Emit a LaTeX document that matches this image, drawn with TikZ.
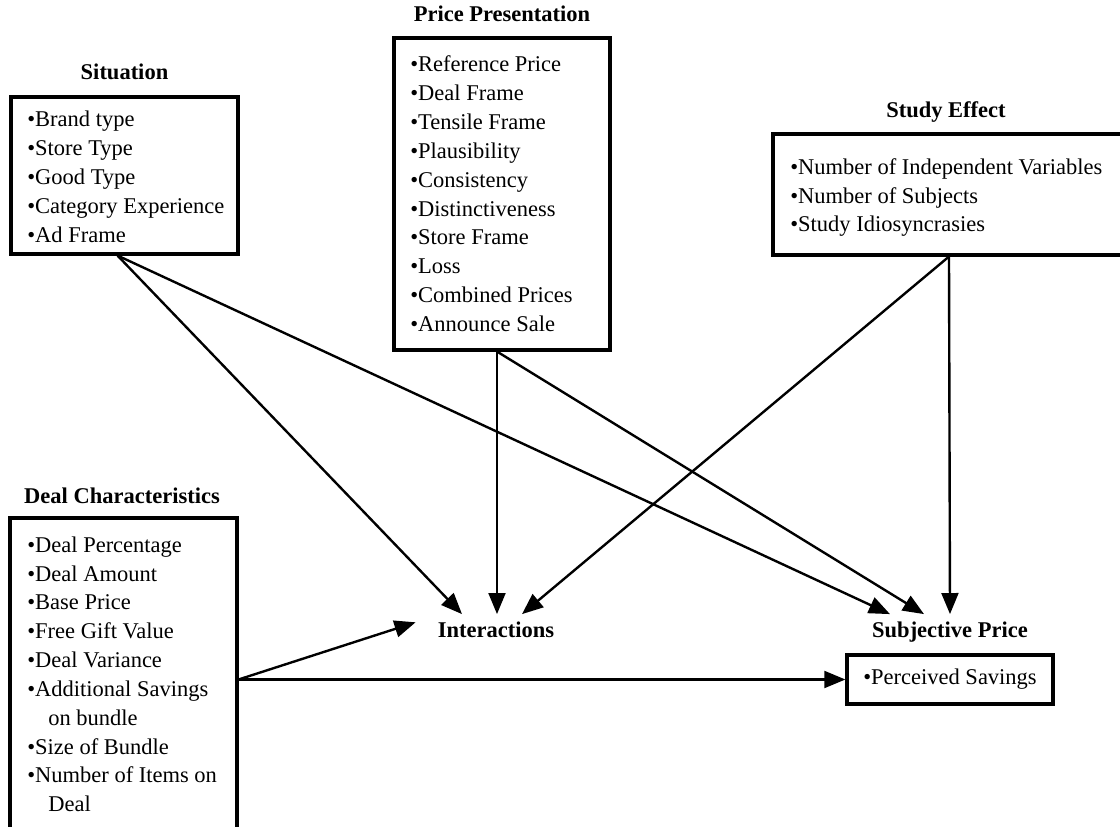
\documentclass[tikz,border=0pt]{standalone}
\usepackage{fontspec}
\setmainfont{Liberation Serif}
\usetikzlibrary{arrows.meta,fit,calc}
\begin{document}
\begin{tikzpicture}[x=0.025cm,y=-0.025cm,
		box/.style={draw,line width=2.2pt,inner sep=0pt},
		head/.style={font=\fontsize{16}{20.5}\selectfont\bfseries,anchor=base,inner sep=0pt},
		items/.style={font=\fontsize{16}{20.5}\selectfont,align=left,anchor=north west,inner sep=0pt},
		arr/.style={line width=1.7pt,-{Triangle[length=15pt,width=12pt]}}]
		\useasboundingbox (0,0) rectangle (1120,827);
		\clip (0,0) rectangle (1120,827);
		\node[head] (sitHead) at (124.5,80) {Situation};
		\node[box,fit={(11,97) (238,254)}] (sit) {};
		\node[items] (sitList) at (27,106.5) {\strut\textbullet Brand type\\\textbullet Store Type\\\textbullet Good Type\\\textbullet Category Experience\\\textbullet Ad Frame};
		\node[head] (priceHead) at (502,22) {Price Presentation};
		\node[box,fit={(394,38) (610,350)}] (price) {};
		\node[items] (priceList) at (410,51.5) {\strut\textbullet Reference Price\\\textbullet Deal Frame\\\textbullet Tensile Frame\\\textbullet Plausibility\\\textbullet Consistency\\\textbullet Distinctiveness\\\textbullet Store Frame\\\textbullet Loss\\\textbullet Combined Prices\\\textbullet Announce Sale};
		\node[head] (studyHead) at (946,118) {Study Effect};
		\node[box,fit={(773,134) (1125,255)}] (study) {};
		\node[items] (studyList) at (790,153.8) {\strut\textbullet Number of Independent Variables\\\textbullet Number of Subjects\\\textbullet Study Idiosyncrasies};
		\node[head] (dealHead) at (122,503) {Deal Characteristics};
		\node[box,fit={(10,518) (237,880)}] (deal) {};
		\node[items] (dealList) at (27,531.8) {\strut\textbullet Deal Percentage\\\textbullet Deal Amount\\\textbullet Base Price\\\textbullet Free Gift Value\\\textbullet Deal Variance\\\textbullet Additional Savings\\\hspace*{15pt}on bundle\\\textbullet Size of Bundle\\\textbullet Number of Items on\\\hspace*{15pt}Deal};
		\node[head] (inter) at (496,637) {Interactions};
		\node[head] (subj) at (950,637) {Subjective Price};
		\node[box,minimum width=5.15cm,minimum height=1.225cm,font=\fontsize{16}{20.5}\selectfont] (perc) at (950,679.5) {\textbullet Perceived Savings};
		\draw[arr] ($(sit.south)+(-7,0)$) -- ($(inter.north)+(-34,-7)$);
		\draw[arr] ($(sit.south)+(-7,0)$) -- ($(subj.north)+(-60,-7)$);
		\draw[arr] ($(price.south)+(-5,0)$) -- ($(inter.north)+(1,-7)$);
		\draw[arr] ($(price.south)+(-5,0)$) -- ($(subj.north)+(-26,-7)$);
		\draw[arr] (study.south) -- ($(subj.north)+(0,-7)$);
		\draw[arr] (study.south) -- ($(inter.north)+(26,-7)$);
		\draw[arr] (perc.west -| deal.east) -- ($(inter.west)+(-22,-7)$);
		\draw[arr] (perc.west -| deal.east) -- (perc.west);
	\end{tikzpicture}
\end{document}
